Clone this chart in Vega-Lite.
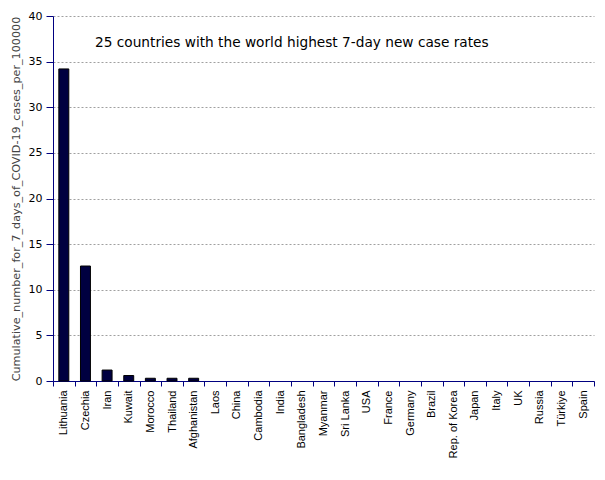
{
  "$schema": "https://vega.github.io/schema/vega-lite/v6.json",
  "autosize": {"type": "none"},
  "padding": {"left": 53, "top": 16, "right": 11, "bottom": 99},
  "width": 541,
  "height": 365,
  "background": "white",
  "title": {
    "text": "25 countries with the world highest 7-day new case rates",
    "anchor": "start",
    "frame": "group",
    "orient": "top",
    "offset": -40,
    "dx": 42,
    "font": "DejaVu Sans",
    "fontSize": 13.7,
    "fontWeight": "normal",
    "color": "black"
  },
  "data": {
    "values": [
      {"country": "Lithuania", "value": 34.2},
      {"country": "Czechia", "value": 12.6},
      {"country": "Iran", "value": 1.2},
      {"country": "Kuwait", "value": 0.6},
      {"country": "Morocco", "value": 0.3},
      {"country": "Thailand", "value": 0.3},
      {"country": "Afghanistan", "value": 0.3},
      {"country": "Laos", "value": 0},
      {"country": "China", "value": 0},
      {"country": "Cambodia", "value": 0},
      {"country": "India", "value": 0},
      {"country": "Bangladesh", "value": 0},
      {"country": "Myanmar", "value": 0},
      {"country": "Sri Lanka", "value": 0},
      {"country": "USA", "value": 0},
      {"country": "France", "value": 0},
      {"country": "Germany", "value": 0},
      {"country": "Brazil", "value": 0},
      {"country": "Rep. of Korea", "value": 0},
      {"country": "Japan", "value": 0},
      {"country": "Italy", "value": 0},
      {"country": "UK", "value": 0},
      {"country": "Russia", "value": 0},
      {"country": "Türkiye", "value": 0},
      {"country": "Spain", "value": 0}
    ]
  },
  "config": {
    "view": {"stroke": null},
    "axis": {"domainColor": "#000080", "tickColor": "#000080"}
  },
  "mark": {"type": "bar", "fill": "#000040", "stroke": "black", "strokeWidth": 1, "width": {"band": 0.46}},
  "encoding": {
    "strokeOpacity": {"condition": {"test": "datum.value == 0", "value": 0}, "value": 1},
    "x": {
      "field": "country",
      "type": "nominal",
      "sort": null,
      "scale": {"paddingInner": 0, "paddingOuter": 0},
      "axis": {
        "title": null,
        "labelAngle": -90,
        "labelFont": "Liberation Sans",
        "labelFontSize": 11,
        "labelColor": "black",
        "tickBand": "extent",
        "tickSize": 5,
        "labelPadding": 4,
        "domainWidth": 1
      }
    },
    "y": {
      "field": "value",
      "type": "quantitative",
      "scale": {"domain": [0, 40], "nice": false},
      "axis": {
        "title": "Cumulative_number_for_7_days_of_COVID-19_cases_per_100000",
        "titleFont": "DejaVu Sans",
        "titleFontSize": 11.2,
        "titleFontWeight": "normal",
        "titleColor": "#444444",
        "titlePadding": 7,
        "values": [0, 5, 10, 15, 20, 25, 30, 35, 40],
        "labelFont": "DejaVu Sans",
        "labelFontSize": 11,
        "labelColor": "black",
        "tickSize": 7,
        "labelPadding": 4,
        "grid": true,
        "gridColor": "#888888",
        "gridDash": [2, 2],
        "gridWidth": 0.8
      }
    }
  }
}
